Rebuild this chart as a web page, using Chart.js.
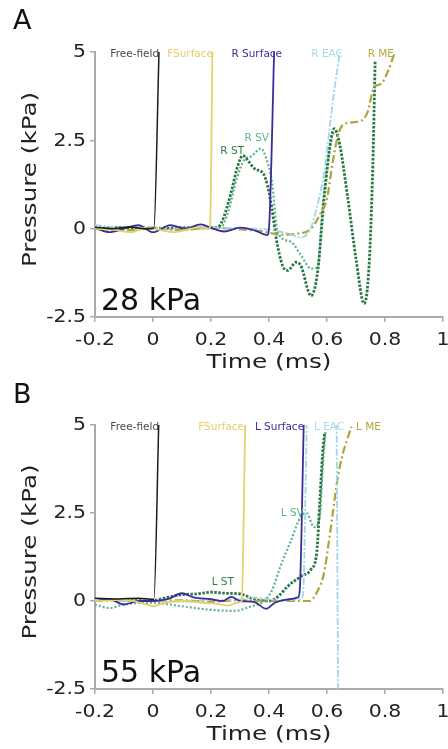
<!DOCTYPE html>
<html>
<head>
<meta charset="utf-8">
<script src="https://cdn.jsdelivr.net/npm/chart.js@4.4.1/dist/chart.umd.min.js"></script>
<style>
  html, body { margin: 0; padding: 0; background: #fff; }
  .panel { position: relative; width: 448px; height: 374px; }
  #panelB { height: 375px; }
</style>
</head>
<body>
<div class="panel" id="panelA"><canvas id="chartA"></canvas></div>
<div class="panel" id="panelB"><canvas id="chartB"></canvas></div>
<script>
// time in ms, pressure in kPa
const ticksX = [-0.2, 0, 0.2, 0.4, 0.6, 0.8, 1];
const ticksY = [-2.5, 0, 2.5, 5];

// panel A, 28 kPa, right side
const namesA = ['Free-field', 'FSurface', 'R Surface', 'R EAC', 'R ME', 'R ST', 'R SV'];
const freeFieldA = [[-0.2,0.04],[-0.14,0.0],[-0.08,0.05],[-0.03,0.0],[0.003,0.02],[0.021,5.1]];
const fSurfaceA = [[-0.2,0.0],[-0.13,-0.04],[-0.075,-0.1],[-0.03,0.02],[0.02,-0.03],[0.07,-0.1],[0.12,-0.02],[0.16,0.03],[0.193,0.0],[0.197,0.1],[0.205,5.1]];
const surfaceA = [[-0.2,0.02],[-0.15,-0.1],[-0.1,0.0],[-0.05,0.1],[0.0,-0.1],[0.06,0.1],[0.11,0.0],[0.165,0.12],[0.2,0.02],[0.245,-0.08],[0.3,0.03],[0.35,-0.05],[0.395,-0.18],[0.402,0.3],[0.418,5.1]];
const eacA = [[-0.2,0.1],[-0.12,0.04],[-0.04,0.06],[0.05,0.0],[0.15,0.04],[0.25,0.02],[0.35,0.0],[0.42,-0.05],[0.47,-0.15],[0.51,-0.25],[0.54,-0.05],[0.565,0.6],[0.59,1.6],[0.62,3.6],[0.646,5.1]];
const meA = [[-0.2,0.0],[-0.1,-0.05],[0.0,0.0],[0.1,-0.04],[0.2,0.02],[0.3,-0.02],[0.38,-0.08],[0.44,-0.17],[0.5,-0.14],[0.545,0.0],[0.58,0.47],[0.6,0.85],[0.62,1.9],[0.64,2.7],[0.66,2.97],[0.71,3.03],[0.74,3.3],[0.762,4.0],[0.786,4.1],[0.81,4.45],[0.832,4.95]];
const stA = [[-0.2,0.0],[-0.1,0.03],[0.0,0.0],[0.1,0.03],[0.2,0.02],[0.225,0.05],[0.245,0.35],[0.27,1.05],[0.293,1.8],[0.31,2.07],[0.33,1.9],[0.35,1.7],[0.38,1.56],[0.395,1.22],[0.41,0.57],[0.425,-0.28],[0.447,-1.05],[0.465,-1.18],[0.493,-0.95],[0.51,-1.05],[0.545,-1.9],[0.568,-1.2],[0.59,0.85],[0.614,2.55],[0.625,2.83],[0.642,2.46],[0.672,0.85],[0.7,-0.85],[0.728,-2.12],[0.745,-1.05],[0.758,1.8],[0.766,4.75]];
const svA = [[-0.2,0.05],[-0.1,0.02],[0.0,0.03],[0.1,0.0],[0.2,0.03],[0.235,0.05],[0.26,0.5],[0.29,1.45],[0.315,1.95],[0.34,2.05],[0.372,2.27],[0.39,2.0],[0.41,1.33],[0.43,-0.1],[0.475,-0.37],[0.51,-0.75],[0.545,-1.13],[0.568,-1.08],[0.585,0.66],[0.61,2.3],[0.628,2.75],[0.645,2.3]];
const tagsA = [[0.021,4.95],[0.207,4.95],[0.445,4.95],[0.655,4.95],[0.831,4.95],[0.314,2.18],[0.40,2.55]];

// panel B, 55 kPa, left side
const namesB = ['Free-field', 'FSurface', 'L Surface', 'L EAC', 'L ME', 'L ST', 'L SV'];
const freeFieldB = [[-0.2,0.08],[-0.12,0.06],[-0.05,0.08],[0.003,0.05],[0.02,5.1]];
const fSurfaceB = [[-0.2,0.0],[-0.1,0.03],[-0.03,-0.08],[0.0,-0.15],[0.04,-0.05],[0.1,0.0],[0.17,-0.05],[0.22,-0.08],[0.26,-0.13],[0.29,-0.05],[0.306,0.0],[0.318,5.1]];
const surfaceB = [[-0.2,0.0],[-0.15,0.05],[-0.1,-0.1],[-0.05,0.0],[0.0,0.0],[0.05,0.05],[0.1,0.22],[0.14,0.1],[0.2,0.05],[0.24,0.0],[0.27,0.12],[0.3,0.0],[0.35,-0.03],[0.39,-0.22],[0.42,-0.05],[0.47,0.05],[0.5,0.1],[0.506,0.3],[0.52,5.1]];
const eacB = [[-0.2,0.05],[-0.1,0.0],[0.0,0.02],[0.1,-0.02],[0.2,0.03],[0.3,0.05],[0.35,0.1],[0.4,0.05],[0.45,0.0],[0.5,0.05],[0.517,0.15],[0.532,5.5],[0.56,8],[0.629,8],[0.639,-3.5]];
const meB = [[-0.2,0.0],[-0.1,0.02],[0.0,0.0],[0.1,0.02],[0.2,-0.02],[0.3,0.02],[0.4,0.0],[0.5,0.0],[0.54,0.0],[0.565,0.25],[0.59,0.8],[0.605,1.6],[0.62,2.5],[0.635,3.4],[0.655,4.2],[0.67,4.6],[0.684,4.95]];
const stB = [[-0.2,0.05],[-0.1,0.03],[0.0,0.02],[0.05,0.1],[0.1,0.18],[0.15,0.2],[0.2,0.25],[0.25,0.22],[0.3,0.2],[0.35,0.05],[0.4,0.0],[0.43,0.12],[0.465,0.42],[0.51,0.7],[0.545,0.9],[0.565,1.4],[0.575,2.8],[0.585,4.2],[0.592,4.8]];
const svB = [[-0.2,-0.1],[-0.15,-0.2],[-0.1,-0.1],[0.0,-0.05],[0.1,-0.15],[0.2,-0.25],[0.28,-0.28],[0.34,-0.15],[0.38,-0.02],[0.41,0.3],[0.44,1.0],[0.475,1.7],[0.51,2.4],[0.53,2.5],[0.555,2.1],[0.575,2.4],[0.585,3.8],[0.595,4.8]];
const tagsB = [[0.021,4.94],[0.314,4.94],[0.521,4.94],[0.659,4.94],[0.786,4.94],[0.279,0.54],[0.52,2.5]];

// one style per trace, same order as the names
const traceStyles = [
  { color: '#1c1c1c', width: 1.5, dash: [] },
  { color: '#e4d16a', width: 1.8, dash: [] },
  { color: '#3b2b9b', width: 1.8, dash: [] },
  { color: '#9ed6ea', width: 1.8, dash: [7, 2, 2, 2] },
  { color: '#aea23a', width: 2.2, dash: [8, 3, 2, 3] },
  { color: '#2b7646', width: 2.8, dash: [2.5, 1.5] },
  { color: '#5db38e', width: 2.2, dash: [2, 2] }
];
const tagColors = ['#4a4a4a', '#e2cf6a', '#3d2f9a', '#a8daec', '#b2a63e', '#2f7d4a', '#5eb490'];

const FONT = '"DejaVu Sans", Verdana, sans-serif';

function makeSets(series, names) {
  return series.map((pts, i) => ({
    label: names[i],
    data: pts.map(([x, y]) => ({ x, y })),
    borderColor: traceStyles[i].color,
    borderWidth: traceStyles[i].width,
    borderDash: traceStyles[i].dash,
    pointRadius: 0,
    fill: false,
    cubicInterpolationMode: 'monotone'
  }));
}

// text drawn wider than the font's own glyphs
function wideText(ctx, text, x, y, sx, rot) {
  ctx.save();
  ctx.translate(x, y);
  if (rot) ctx.rotate(rot);
  ctx.scale(sx, 1);
  ctx.fillText(text, 0, 0);
  ctx.restore();
}

// panel letter, level, tick labels, axis titles and the trace names
function decor(letter, level, names, tags) {
  return {
    id: 'decor' + letter,
    afterDraw(chart) {
      const { ctx, chartArea: a, scales: { x, y } } = chart;
      ctx.save();
      ctx.fillStyle = '#111';
      ctx.textAlign = 'left';
      ctx.textBaseline = 'alphabetic';
      ctx.font = '27px ' + FONT;
      ctx.fillText(letter, 13, 29);
      ctx.font = '30px ' + FONT;
      ctx.fillText(level, 101, a.bottom - 7);

      ctx.fillStyle = '#222';
      ctx.font = '17px ' + FONT;
      ctx.textAlign = 'center';
      ticksX.forEach(v => wideText(ctx, String(v), x.getPixelForValue(v), a.bottom + 28, 1.2));
      ctx.textAlign = 'right';
      ctx.textBaseline = 'middle';
      ticksY.forEach(v => wideText(ctx, String(v), a.left - 9, y.getPixelForValue(v) + 1, 1.2));

      ctx.font = '20px ' + FONT;
      ctx.textAlign = 'center';
      wideText(ctx, 'Time (ms)', (a.left + a.right) / 2, a.bottom + 46, 1.24);
      wideText(ctx, 'Pressure (kPa)', 31, (a.top + a.bottom) / 2 - 5, 1.23, -Math.PI / 2);
      ctx.restore();

      ctx.save();
      ctx.font = '10.5px ' + FONT;
      ctx.textAlign = 'right';
      ctx.textBaseline = 'middle';
      names.forEach((n, i) => {
        ctx.fillStyle = tagColors[i];
        ctx.fillText(n, x.getPixelForValue(tags[i][0]), y.getPixelForValue(tags[i][1]));
      });
      ctx.restore();
    }
  };
}

function makeChart(id, letter, level, series, names, tags, padTop, xHeight) {
  return new Chart(document.getElementById(id), {
    type: 'line',
    data: { datasets: makeSets(series, names) },
    options: {
      responsive: true,
      maintainAspectRatio: false,
      animation: false,
      devicePixelRatio: 1,
      layout: { padding: { left: 0, right: 5, top: padTop, bottom: 0 } },
      plugins: { legend: { display: false }, tooltip: { enabled: false } },
      scales: {
        x: {
          type: 'linear',
          min: -0.2,
          max: 1,
          afterBuildTicks: s => { s.ticks = ticksX.map(v => ({ value: v })); },
          afterFit: s => { s.height = xHeight; s.paddingLeft = 0; s.paddingRight = 0; },
          grid: { drawOnChartArea: false, drawTicks: true, tickLength: 5, color: '#aaa', lineWidth: 1.5 },
          border: { color: '#aaa', width: 2 },
          ticks: { display: false }
        },
        y: {
          min: -2.5,
          max: 5,
          afterBuildTicks: s => { s.ticks = ticksY.map(v => ({ value: v })); },
          afterFit: s => { s.width = 95; s.paddingTop = 0; s.paddingBottom = 0; },
          grid: { drawOnChartArea: false, drawTicks: true, tickLength: 5, color: '#aaa', lineWidth: 1.5 },
          border: { color: '#aaa', width: 2 },
          ticks: { display: false }
        }
      }
    },
    plugins: [decor(letter, level, names, tags)]
  });
}

makeChart('chartA', 'A', '28 kPa',
  [freeFieldA, fSurfaceA, surfaceA, eacA, meA, stA, svA], namesA, tagsA, 52, 57);
makeChart('chartB', 'B', '55 kPa',
  [freeFieldB, fSurfaceB, surfaceB, eacB, meB, stB, svB], namesB, tagsB, 51, 60);
</script>
</body>
</html>
